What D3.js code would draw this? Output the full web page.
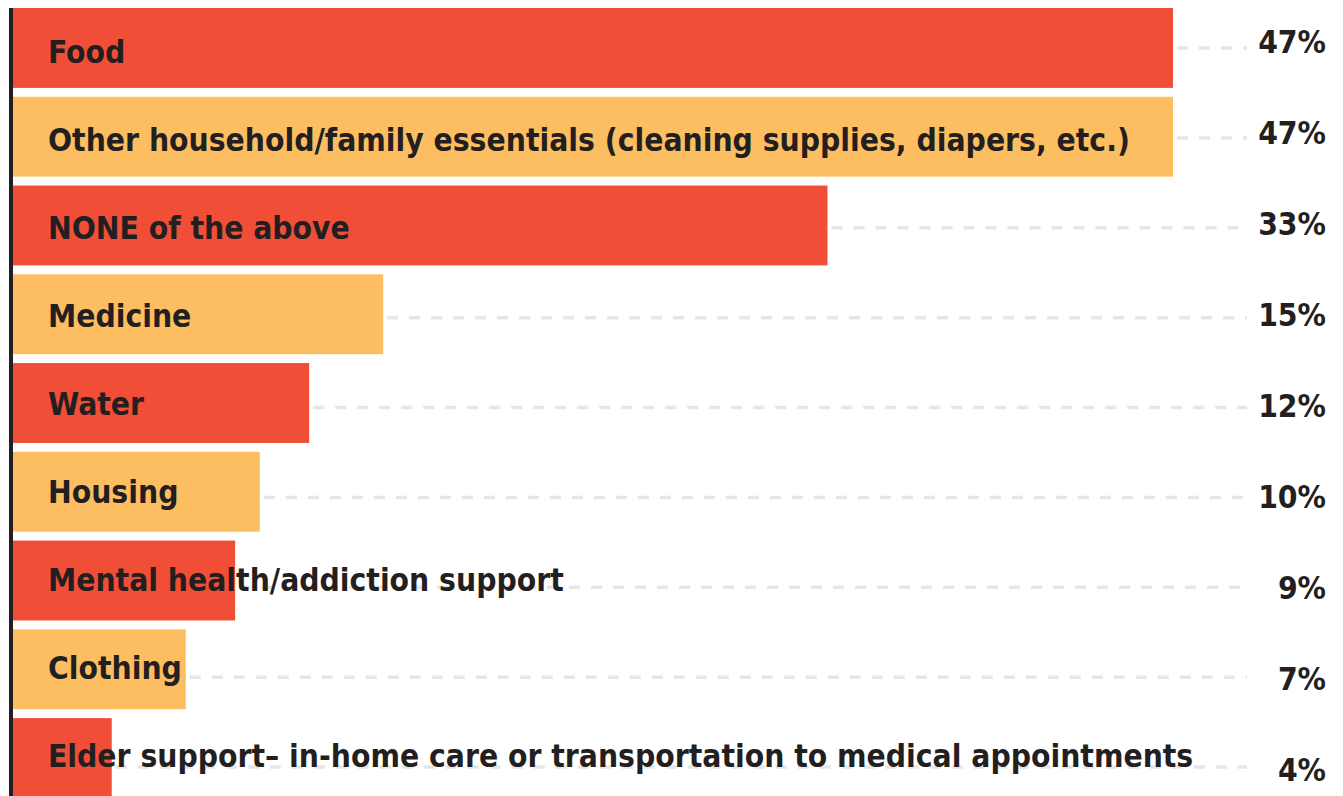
<!DOCTYPE html>
<html>
<head>
<meta charset="utf-8">
<script src="https://cdn.jsdelivr.net/npm/d3@7"></script>
<style>
  body { margin: 0; background: #fff; }
  text { font-family: "DejaVu Sans Condensed", "DejaVu Sans", sans-serif; font-weight: bold; fill: #231f20; }
</style>
</head>
<body>
<div id="viz"></div>
<script>
const categories = [
  "Food",
  "Other household/family essentials (cleaning supplies, diapers, etc.)",
  "NONE of the above",
  "Medicine",
  "Water",
  "Housing",
  "Mental health/addiction support",
  "Clothing",
  "Elder support\u2013 in-home care or transportation to medical appointments"
]
const values = [47, 47, 33, 15, 12, 10, 9, 7, 4]
const valueLabels = ["47%", "47%", "33%", "15%", "12%", "10%", "9%", "7%", "4%"]
const barColors = ["#f04e37", "#fdbe62"]

const width = 1343
const height = 796

const svg = d3.select("#viz").append("svg")
  .attr("width", width)
  .attr("height", height)

const x = d3.scaleLinear()
  .domain([0, 47])
  .range([13, 1173])

const y = d3.scaleBand()
  .domain(categories)
  .range([8, 798])
  .paddingInner(0.1)
  .paddingOuter(0)

// text baselines and gridlines don't sit exactly on the bar centres
const yCat = d3.scalePoint().domain(categories).range([63, 767])
const yVal = d3.scalePoint().domain(categories).range([53, 781])
const yGrid = d3.scalePoint().domain(categories).range([48, 767])

const rows = categories.map((c, i) => ({ cat: c, value: values[i], label: valueLabels[i], i: i }))

// dashed gridlines from bar end to the value label
svg.selectAll("line.grid")
  .data(rows)
  .enter()
  .append("line")
  .attr("class", "grid")
  .attr("x1", d => x(d.value) + 4)
  .attr("x2", 1247)
  .attr("y1", d => yGrid(d.cat))
  .attr("y2", d => yGrid(d.cat))
  .attr("stroke", "#e6e6e6")
  .attr("stroke-width", 3.5)
  .attr("stroke-dasharray", "11,11")

svg.selectAll("rect.bar")
  .data(rows)
  .enter()
  .append("rect")
  .attr("class", "bar")
  .attr("x", x(0))
  .attr("y", d => y(d.cat))
  .attr("width", d => x(d.value) - x(0))
  .attr("height", y.bandwidth())
  .attr("fill", d => barColors[d.i % 2])

svg.selectAll("text.cat")
  .data(rows)
  .enter()
  .append("text")
  .attr("class", "cat")
  .attr("x", 48)
  .attr("y", d => yCat(d.cat))
  .style("font-size", "31.5px")
  .text(d => d.cat)

svg.selectAll("text.val")
  .data(rows)
  .enter()
  .append("text")
  .attr("class", "val")
  .attr("x", 1326)
  .attr("y", d => yVal(d.cat))
  .attr("text-anchor", "end")
  .style("font-size", "31.5px")
  .text(d => d.label)

// left axis line
svg.append("line")
  .attr("x1", 11)
  .attr("x2", 11)
  .attr("y1", 8)
  .attr("y2", height)
  .attr("stroke", "#231f20")
  .attr("stroke-width", 4)
</script>
</body>
</html>
